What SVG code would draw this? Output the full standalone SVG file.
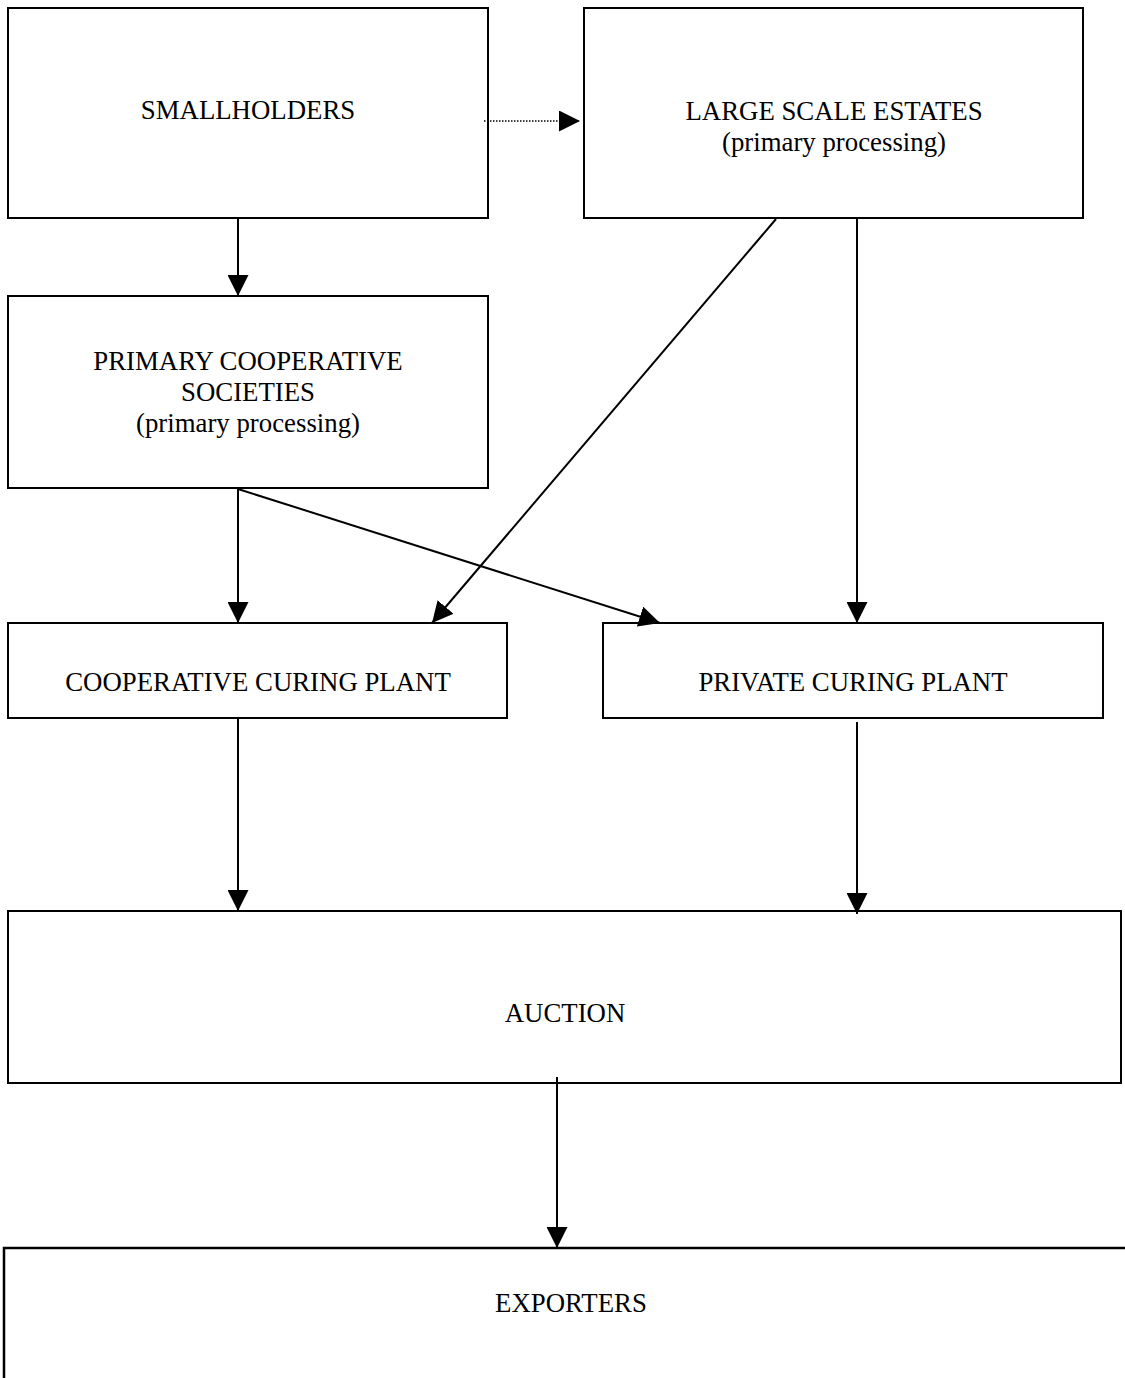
<svg xmlns="http://www.w3.org/2000/svg" width="1125" height="1378" viewBox="0 0 1125 1378">
<style>
.box{fill:#fff;stroke:#000;stroke-width:2}
.t{font-family:"Liberation Serif","Times New Roman",serif;font-size:26.8px;fill:#000;text-anchor:middle}
.c{stroke:#000;stroke-width:2;fill:none;marker-end:url(#ah)}
.d{stroke:#000;stroke-width:1.5;stroke-dasharray:1.5 1.5;fill:none;marker-end:url(#ah)}
</style>
<defs>
<marker id="ah" viewBox="0 0 21 21" refX="21" refY="10.5" markerWidth="21" markerHeight="21" markerUnits="userSpaceOnUse" orient="auto">
<path d="M0,0 L21,10.5 L0,21 Z" fill="#000"/>
</marker>
</defs>
<rect width="1125" height="1378" fill="#fff"/>
<g id="smallholders"><rect class="box" x="8" y="8" width="480" height="210"/><text class="t" x="248" y="119">SMALLHOLDERS</text></g>
<g id="estates"><rect class="box" x="584" y="8" width="499" height="210"/><text class="t" x="834" y="120">LARGE SCALE ESTATES</text><text class="t" x="834" y="151">(primary processing)</text></g>
<g id="pcs"><rect class="box" x="8" y="296" width="480" height="192"/><text class="t" x="248" y="370">PRIMARY COOPERATIVE</text><text class="t" x="248" y="401">SOCIETIES</text><text class="t" x="248" y="432">(primary processing)</text></g>
<g id="coopcuring"><rect class="box" x="8" y="623" width="499" height="95"/><text class="t" x="258" y="691">COOPERATIVE CURING PLANT</text></g>
<g id="privcuring"><rect class="box" x="603" y="623" width="500" height="95"/><text class="t" x="853" y="691">PRIVATE CURING PLANT</text></g>
<g id="auction"><rect class="box" x="8" y="911" width="1113" height="172"/><text class="t" x="565" y="1022">AUCTION</text></g>
<g id="exporters"><path d="M4,1400 L4,1248 L1130,1248" stroke="#000" stroke-width="2.5" fill="none"/><text class="t" x="571" y="1312">EXPORTERS</text></g>
<g id="connectors">
<line class="d" x1="484" y1="121" x2="580" y2="121"/>
<line class="c" x1="238" y1="218" x2="238" y2="296"/>
<line class="c" x1="776" y1="219" x2="432" y2="623"/>
<line class="c" x1="857" y1="219" x2="857" y2="623"/>
<line class="c" x1="238" y1="488" x2="238" y2="623"/>
<line class="c" x1="238" y1="489" x2="660" y2="623"/>
<line class="c" x1="238" y1="718" x2="238" y2="911"/>
<line class="c" x1="857" y1="722" x2="857" y2="914"/>
<line class="c" x1="557" y1="1077" x2="557" y2="1248"/>
</g>
</svg>
